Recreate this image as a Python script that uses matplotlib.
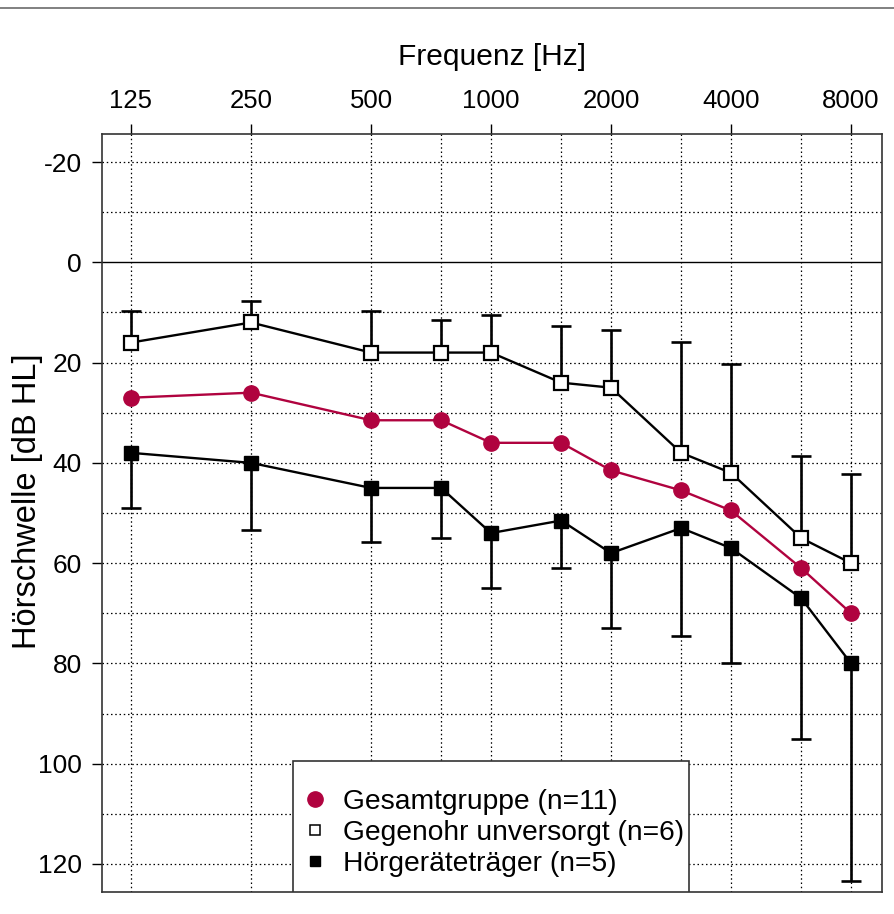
import matplotlib
matplotlib.use("Agg")
import matplotlib.pyplot as plt
from matplotlib.lines import Line2D
from matplotlib.patches import Rectangle

plt.rcParams['font.family'] = ['Liberation Sans', 'DejaVu Sans']

freqs = [125, 250, 500, 750, 1000, 1500, 2000, 3000, 4000, 6000, 8000]
tick_freqs = [125, 250, 500, 1000, 2000, 4000, 8000]
tick_labels = ["125", "250", "500", "1000", "2000", "4000", "8000"]

gesamt = [27, 26, 31.5, 31.5, 36, 36, 41.5, 45.5, 49.5, 61, 70]
gegenohr = [16, 12, 18, 18, 18, 24, 25, 38, 42, 55, 60]
gegenohr_sd = [6.3, 4.3, 8.2, 6.5, 7.5, 11.3, 11.6, 22.1, 21.8, 16.3, 17.7]
hg = [38, 40, 45, 45, 54, 51.5, 58, 53, 57, 67, 80]
hg_sd = [11, 13.3, 10.7, 10, 11, 9.5, 15, 21.5, 23, 28, 43.5]

labels = ["Gesamtgruppe (n=11)", "Gegenohr unversorgt (n=6)", "Hörgeräteträger (n=5)"]
red = '#B0033F'

fig = plt.figure(figsize=(8.94, 9.14), dpi=100)
ax = fig.add_axes([102/894, 1-892/914, 780/894, 758/914])

ax.set_xscale('log', base=2)
ax.set_xlim(125 * 2 ** (-29/120), 8000 * 2 ** (31/120))
ax.set_ylim(125.6, -25.6)

# grid
for f in freqs:
    ax.axvline(f, color='black', lw=0.9, ls=(0, (1.2, 2.2)), zorder=0)
for y in range(-20, 130, 10):
    if y == 0:
        ax.axhline(0, color='black', lw=1.0, zorder=0.5)
    else:
        ax.axhline(y, color='black', lw=0.9, ls=(0, (1.2, 2.2)), zorder=0)

# error bars (one-sided)
gg_top = [m - s for m, s in zip(gegenohr, gegenohr_sd)]
hg_bot = [m + s for m, s in zip(hg, hg_sd)]
ax.vlines(freqs, gg_top, gegenohr, color='black', lw=1.9, zorder=2)
ax.plot(freqs, gg_top, ls='none', marker='_', ms=14, mew=1.9, color='black', zorder=2)
ax.vlines(freqs, hg, hg_bot, color='black', lw=1.9, zorder=2)
ax.plot(freqs, hg_bot, ls='none', marker='_', ms=14, mew=1.9, color='black', zorder=2)

ax.plot(freqs, gegenohr, color='black', lw=1.7, marker='s', ms=10,
        mfc='white', mec='black', mew=1.6, zorder=3)
ax.plot(freqs, hg, color='black', lw=1.7, marker='s', ms=10,
        mfc='black', mec='black', zorder=3)
ax.plot(freqs, gesamt, color=red, lw=1.7, marker='o', ms=11,
        mfc=red, mec=red, zorder=4)

# ticks
ax.xaxis.set_ticks_position('top')
ax.xaxis.set_label_position('top')
ax.set_xticks(tick_freqs)
ax.set_xticklabels(tick_labels)
ax.minorticks_off()
ax.tick_params(axis='x', which='major', direction='out', length=7, width=1,
               labelsize=18.5, pad=8)
ax.set_yticks(list(range(-20, 121, 20)))
ax.set_yticklabels([str(v) for v in range(-20, 121, 20)])
ax.tick_params(axis='y', direction='out', length=7, width=1, labelsize=19, pad=7.5)
ax.set_xlabel("Frequenz [Hz]", fontsize=21.5, labelpad=17.5)
fig.text(28/894, 1 - 501/914, "Hörschwelle [dB HL]", fontsize=23.5,
         rotation=90, ha='center', va='center')

for s in ax.spines.values():
    s.set_color('#333333')
    s.set_linewidth(1.2)

# legend box
ax.add_patch(Rectangle(((293-102)/780, 0), (689-293)/780, (892-761)/758,
                       transform=ax.transAxes, facecolor='white',
                       edgecolor='#333333', lw=1.2, zorder=9))
handles = [
    Line2D([], [], ls='none', marker='o', ms=11, mfc=red, mec=red),
    Line2D([], [], ls='none', marker='s', ms=7.5, mfc='white', mec='black', mew=1.1),
    Line2D([], [], ls='none', marker='s', ms=7.5, mfc='black', mec='black'),
]
leg = ax.legend(handles, labels, loc='upper left',
                bbox_to_anchor=((304-102)/780, (892-789)/758),
                fontsize=20.3, frameon=False, handlelength=0.8, handletextpad=0.6,
                labelspacing=0.17, borderpad=0, borderaxespad=0)
leg.set_zorder(10)

# top border line of the figure
fig.add_artist(Line2D([0, 1], [1 - 7.5/914, 1 - 7.5/914], color='#808080', lw=1.4,
                      transform=fig.transFigure))

fig.savefig("out.png", dpi=100, facecolor='white')
